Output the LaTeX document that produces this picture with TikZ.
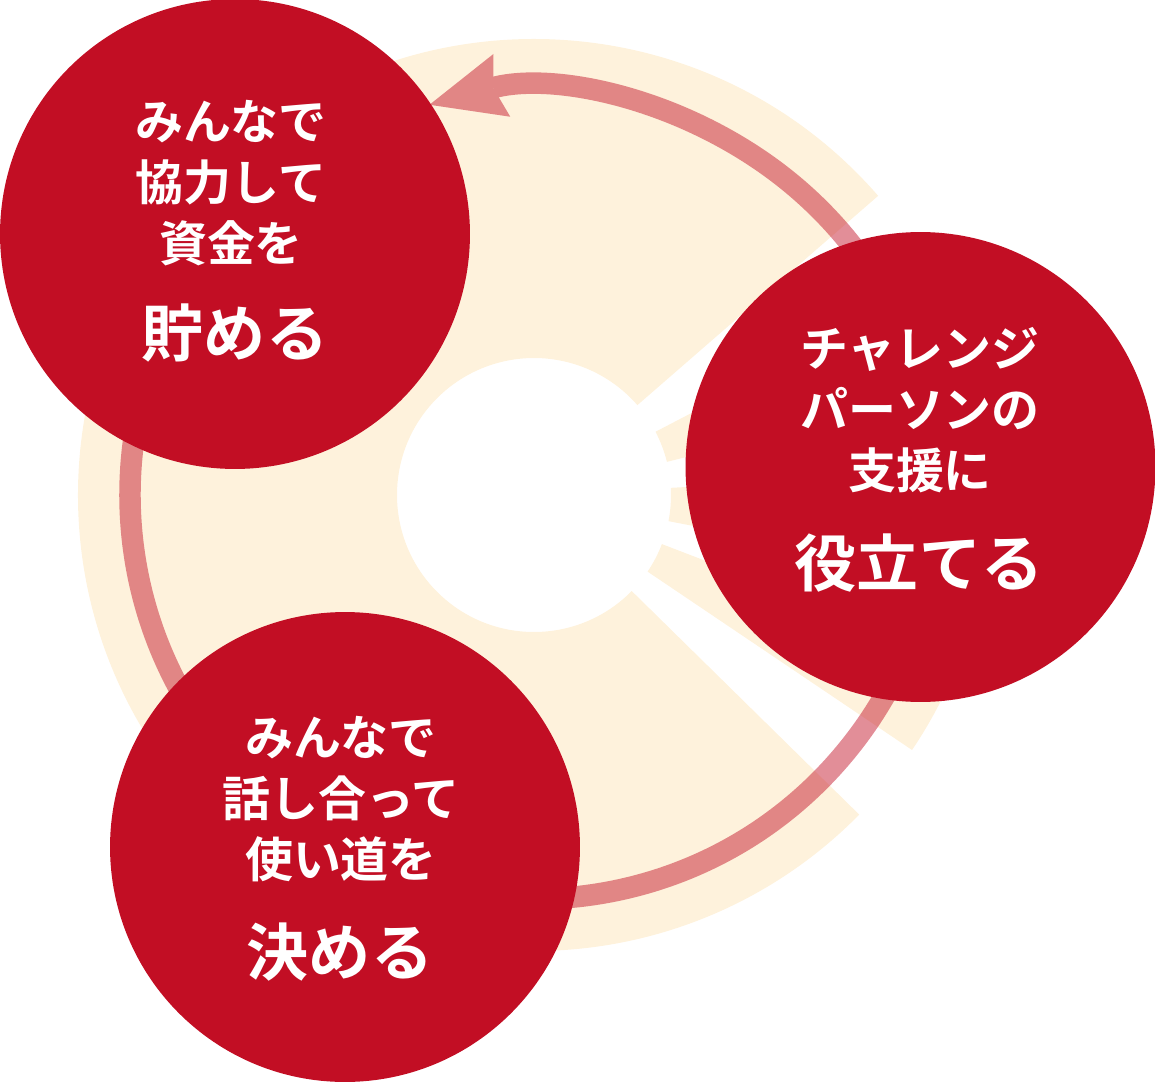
\documentclass[tikz,border=0pt]{standalone}
\usepackage{fontspec}
\setmainfont{Noto Sans CJK JP}[BoldFont={* Bold}]
\usetikzlibrary{arrows.meta}
\definecolor{ringcream}{RGB}{254,242,220}
\definecolor{circlered}{RGB}{194,14,36}

\begin{document}
\begin{tikzpicture}[x=0.02cm,y=0.02cm,
	bubble/.style={circle,fill=circlered,minimum size=9.4cm,inner sep=0pt},
	smalltext/.style={text=white,align=center,inner sep=0pt,font=\bfseries\fontsize{27.3}{34.7}\selectfont},
	bigtext/.style={text=white,inner sep=0pt,font=\bfseries\fontsize{35.3}{40}\selectfont}]
	\useasboundingbox (-534,-587) rectangle (621,495);
	\fill[ringcream] (41:456) arc[start angle=41,end angle=315.5,radius=456] -- (315.5:137) arc[start angle=315.5,end angle=41,radius=137] -- cycle;
	\foreach \a/\b in {14/27.5,-11/3,-34/-21}
		\fill[ringcream] (\a:456) arc[start angle=\a,end angle=\b,radius=456] -- (\b:137) arc[start angle=\b,end angle=\a,radius=137] -- cycle;
	\begin{scope}[transparency group,opacity=0.47]
		\draw[circlered,line width=0.43cm,-{Stealth[length=1.5cm,width=1.3cm,inset=0.18cm,line width=0pt]}] (140:404) arc[start angle=140,end angle=465,radius=404];
	\end{scope}
	\node[bubble] (save) at (-299,261) {};
	\node[bubble] (support) at (386.5,28) {};
	\node[bubble] (decide) at (-189,-352) {};
	\node[smalltext] (savetext) at (-303,312) {みんなで\\協力して\\資金を};
	\node[bigtext] (saveword) at (-299,162) {貯める};
	\node[smalltext] (supporttext) at (386,85) {チャレンジ\\パーソンの\\支援に};
	\node[bigtext] (supportword) at (385,-68) {役立てる};
	\node[smalltext] (decidetext) at (-193,-304) {みんなで\\話し合って\\使い道を};
	\node[bigtext] (decideword) at (-194,-457) {決める};
\end{tikzpicture}
\end{document}
